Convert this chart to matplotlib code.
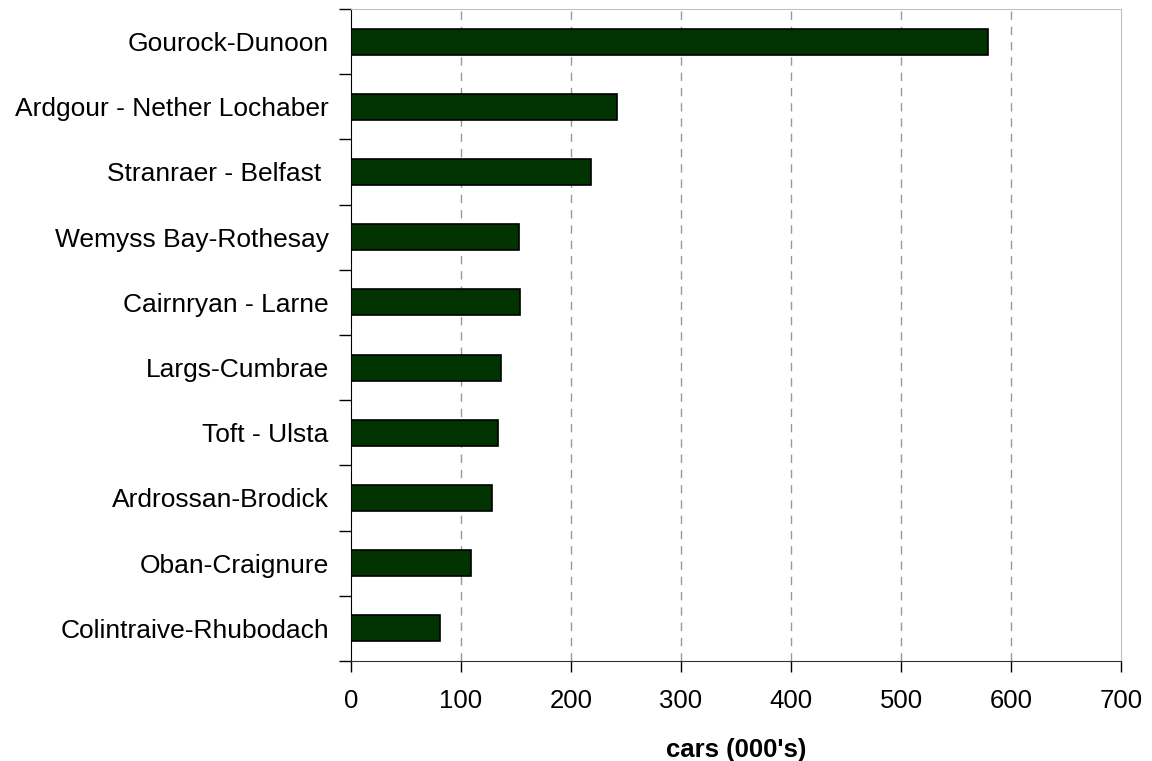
import matplotlib
matplotlib.use("Agg")
import matplotlib.pyplot as plt
import numpy as np

routes = ["Gourock-Dunoon", "Ardgour - Nether Lochaber", "Stranraer - Belfast ",
          "Wemyss Bay-Rothesay", "Cairnryan - Larne", "Largs-Cumbrae",
          "Toft - Ulsta", "Ardrossan-Brodick", "Oban-Craignure",
          "Colintraive-Rhubodach"]
cars = [579, 242, 218, 153, 154, 136, 134, 128, 109, 81]
xticks = [0, 100, 200, 300, 400, 500, 600, 700]

plt.rcParams['font.family'] = ['Liberation Sans', 'DejaVu Sans']

fig = plt.figure(figsize=(11.52, 7.61), dpi=100)
ax = fig.add_axes([351/1152, 1-661/761, (1121-351)/1152, (661-9)/761])

n = len(routes)
y = np.arange(n)
ax.barh(y, cars, height=0.4, color="#003300", edgecolor="black", linewidth=1.2, zorder=3)

ax.set_xlim(0, 700)
ax.set_ylim(n - 0.5, -0.5)
ax.set_xticks(xticks)
ax.set_xticklabels([str(v) for v in xticks], fontsize=18.5)
ax.tick_params(axis='x', direction='out', length=8, width=1, pad=12, color='black')

# category labels at centers (minor), ticks at boundaries (major)
ax.set_yticks(np.arange(-0.5, n, 1.0))
ax.set_yticklabels([])
ax.tick_params(axis='y', which='major', direction='out', length=9, width=1, color='black')
ax.set_yticks(y, minor=True)
ax.set_yticklabels(routes, minor=True, fontsize=19)
ax.tick_params(axis='y', which='minor', length=0, pad=16)

for v in xticks[1:-1]:
    ax.axvline(v, color='#999999', linestyle=(0, (6, 5)), linewidth=1, zorder=1)

ax.spines['left'].set_color('black')
ax.spines['bottom'].set_color('#333333')
ax.spines['top'].set_color('#c0c0c0')
ax.spines['right'].set_color('#c0c0c0')

ax.set_xlabel("cars (000's)", fontsize=18.5, fontweight='bold', labelpad=18)

fig.savefig("out.png", dpi=100)
